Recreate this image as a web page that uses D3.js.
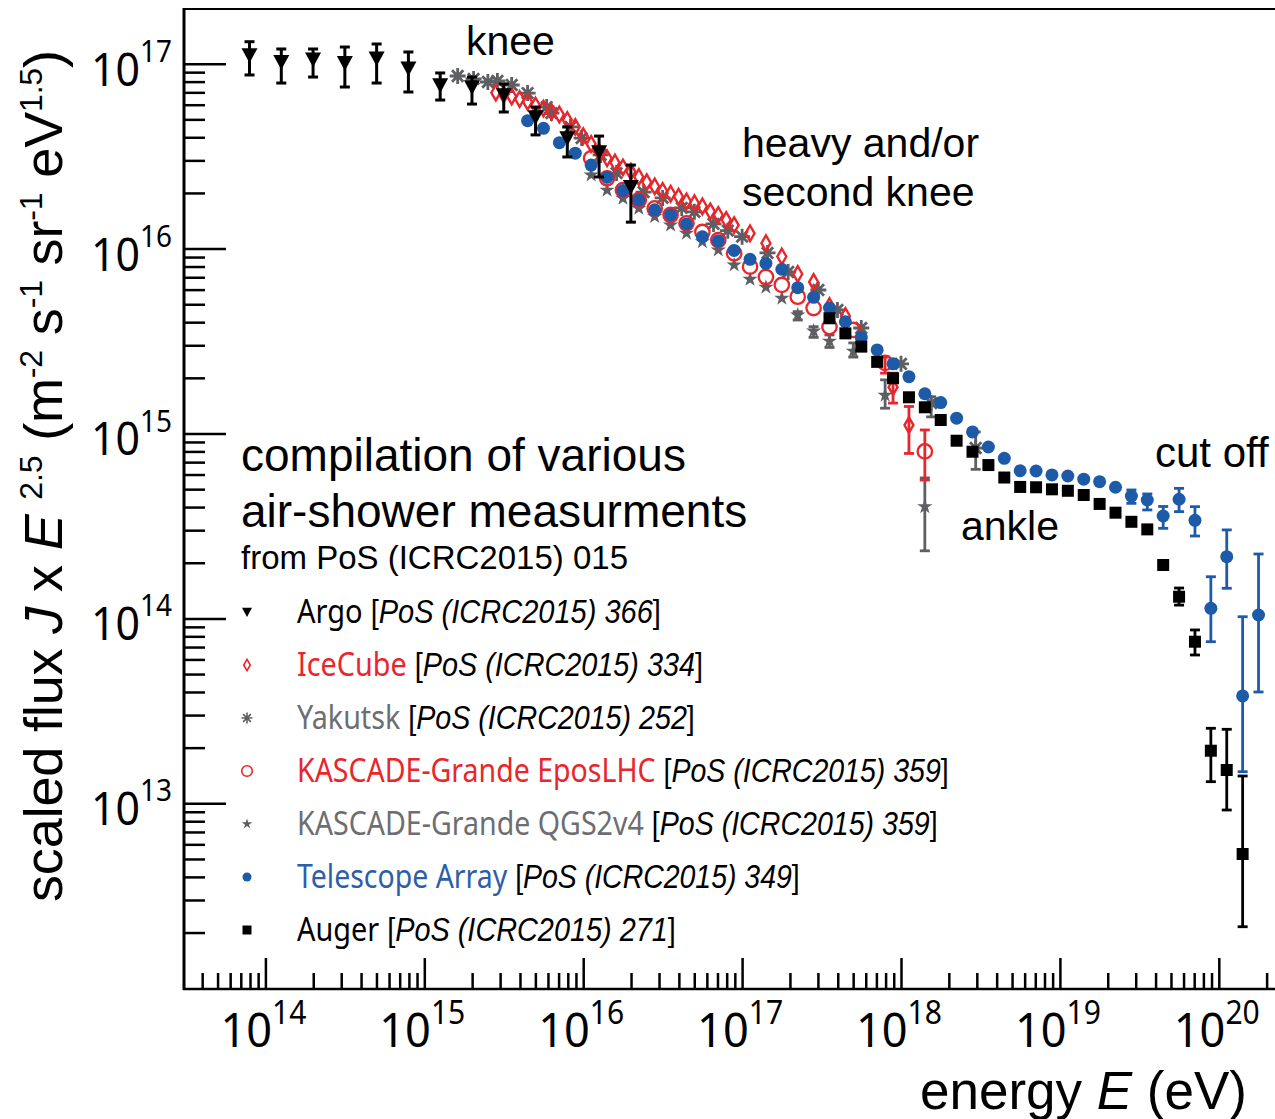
<!DOCTYPE html>
<html>
<head>
<meta charset="utf-8">
<script src="https://cdn.jsdelivr.net/npm/d3@7"></script>
<style>
  body { margin: 0; background: #fff; }
</style>
</head>
<body>
<script>
var width = 1275;
var height = 1119;

// flux values are in units of 1e15 (m^-2 s^-1 sr^-1 eV^1.5), energies as log10(E/eV)
var UNIT = 1e15;

// Argo
var argoLogE = [13.9, 14.1, 14.3, 14.5, 14.7, 14.9, 15.1, 15.3, 15.5, 15.7, 15.9, 16.1, 16.3];
var argoFlux = [111.4, 102.5, 105.6, 101.2, 107.0, 94.4, 76.7, 74.8, 67.7, 51.5, 39.6, 33.3, 21.6];
var argoHi   = [131.5, 120.1, 120.1, 123.1, 127.8, 115.7, 89.1, 84.7, 77.7, 58.3, 45.5, 40.6, 28.3];
var argoLo   = [86.9, 78.6, 84.7, 74.8, 78.6, 70.3, 63.6, 60.5, 54.8, 41.2, 31.3, 24.4, 13.9];

// IceCube
var iceLogE = [15.45, 15.50, 15.55, 15.60, 15.65, 15.70, 15.75, 15.80, 15.85, 15.90, 15.95, 16.00, 16.05, 16.10,
  16.15, 16.20, 16.25, 16.30, 16.35, 16.40, 16.45, 16.50, 16.55, 16.60, 16.65, 16.70, 16.75, 16.80, 16.85,
  16.90, 16.95, 17.05, 17.15, 17.25, 17.35, 17.45, 17.55, 17.65, 17.95, 18.05];
var iceFlux = [69.7, 68.1, 66.5, 64.4, 62.1, 59.4, 57.2, 54.9, 53.1, 49.6, 45.5, 40.6, 36.8, 33.3,
  30.8, 29.2, 27.5, 26.1, 24.4, 22.9, 21.7, 20.5, 19.8, 19.1, 18.0, 17.6, 16.9, 15.9, 15.2,
  14.3, 13.4, 12.1, 10.7, 9.06, 7.29, 6.60, 4.89, 4.32, 1.78, 1.11];
var iceHi = [null, null, null, null, null, null, null, null, null, null, null, null, null, null,
  null, null, null, null, null, null, null, null, null, null, null, null, null, null, null,
  null, null, null, null, null, null, null, null, null, 2.12, 1.40];
var iceLo = [null, null, null, null, null, null, null, null, null, null, null, null, null, null,
  null, null, null, null, null, null, null, null, null, null, null, null, null, null, null,
  null, null, null, null, null, null, null, null, null, 1.46, 0.78];

// Yakutsk
var yakLogE = [15.21, 15.31, 15.40, 15.46, 15.55, 15.65, 15.77, 15.80, 15.92, 15.99, 16.11, 16.21, 16.38, 16.50,
  16.62, 16.70, 16.82, 16.91, 17.00, 17.16, 17.29, 17.48, 17.60, 17.75, 18.00, 18.19, 18.47];
var yakFlux = [85.8, 82.7, 79.6, 80.6, 76.7, 69.4, 58.3, 54.1, 45.5, 39.6, 32.1, 25.6, 20.2, 18.8,
  16.6, 15.8, 13.6, 12.5, 11.6, 9.47, 7.47, 5.97, 4.66, 3.72, 2.38, 1.46, 0.835];
var yakHi = [null, null, null, null, null, null, null, null, null, null, null, null, null, null,
  null, null, null, null, null, null, null, null, null, null, null, 1.58, 1.02];
var yakLo = [null, null, null, null, null, null, null, null, null, null, null, null, null, null,
  null, null, null, null, null, null, null, null, null, null, null, 1.23, 0.64];

// KASCADE-Grande EposLHC
var kgEposLogE = [16.05, 16.15, 16.25, 16.35, 16.45, 16.55, 16.65, 16.75, 16.85, 16.95, 17.05, 17.15, 17.25,
  17.35, 17.45, 17.55, 17.70, 17.90, 18.15];
var kgEposFlux = [30.8, 24.0, 20.7, 18.3, 16.5, 15.2, 13.7, 12.3, 11.1, 9.43, 7.98, 7.02, 6.36,
  5.49, 4.77, 3.77, 3.63, 2.41, 0.80];
var kgEposHi = [null, null, null, null, null, null, null, null, null, null, null, null, null,
  null, null, null, null, 2.59, 1.045];
var kgEposLo = [null, null, null, null, null, null, null, null, null, null, null, null, null,
  null, null, null, null, 2.12, 0.56];

// KASCADE-Grande QGS2v4
var kgQgsLogE = [16.05, 16.15, 16.25, 16.35, 16.45, 16.55, 16.65, 16.75, 16.85, 16.95, 17.05, 17.15, 17.25,
  17.35, 17.45, 17.55, 17.70, 17.90, 18.15];
var kgQgsFlux = [25.0, 20.7, 18.7, 16.5, 14.9, 13.4, 12.1, 10.9, 9.83, 8.15, 6.82, 6.18, 5.39,
  4.37, 3.58, 3.16, 2.79, 1.61, 0.402];
var kgQgsHi = [null, null, null, null, null, null, null, null, null, null, null, null, null,
  4.56, 3.78, 3.41, 3.09, 1.95, 0.575];
var kgQgsLo = [null, null, null, null, null, null, null, null, null, null, null, null, null,
  4.11, 3.31, 2.92, 2.59, 1.37, 0.232];

// Telescope Array
var taLogE = [15.65, 15.75, 15.85, 15.95, 16.05, 16.15, 16.25, 16.35, 16.45, 16.55,
  16.65, 16.75, 16.85, 16.95, 17.05, 17.15, 17.25, 17.35, 17.45, 17.55,
  17.65, 17.75, 17.85, 17.95, 18.05, 18.15, 18.25, 18.35, 18.45, 18.55,
  18.65, 18.75, 18.85, 18.95, 19.05, 19.15, 19.25, 19.35, 19.45, 19.55,
  19.65, 19.75, 19.85, 19.95, 20.05, 20.15, 20.25];
var taFlux = [49.2, 44.7, 37.4, 32.8, 28.3, 24.3, 20.6, 18.3, 16.2, 15.2,
  13.6, 11.6, 11.0, 9.77, 8.75, 8.31, 7.73, 6.15, 5.45, 4.77,
  4.02, 3.31, 2.83, 2.38, 2.03, 1.64, 1.47, 1.21, 1.02, 0.845,
  0.734, 0.629, 0.627, 0.597, 0.589, 0.566, 0.549, 0.512, 0.459, 0.437,
  0.358, 0.441, 0.339, 0.1134, 0.2156, 0.0381, 0.1043];
var taHi = [null, null, null, null, null, null, null, null, null, null,
  null, null, null, null, null, null, null, null, null, null,
  null, null, null, null, null, null, null, null, null, null,
  null, null, null, null, null, null, null, null, 0.495, 0.471,
  0.403, 0.505, 0.402, 0.168, 0.301, 0.1021, 0.223];
var taLo = [null, null, null, null, null, null, null, null, null, null,
  null, null, null, null, null, null, null, null, null, null,
  null, null, null, null, null, null, null, null, null, null,
  null, null, null, null, null, null, null, null, 0.419, 0.386,
  0.307, 0.378, 0.279, 0.0748, 0.1455, 0.01482, 0.040];

// Auger
var augerLogE = [17.55, 17.65, 17.75, 17.85, 17.95, 18.05, 18.15, 18.25, 18.35, 18.45,
  18.55, 18.65, 18.75, 18.85, 18.95, 19.05, 19.15, 19.25, 19.35, 19.45,
  19.55, 19.65, 19.75, 19.85, 19.95, 20.05, 20.15];
var augerFlux = [4.20, 3.48, 2.95, 2.44, 1.99, 1.57, 1.386, 1.183, 0.914, 0.797,
  0.675, 0.578, 0.514, 0.512, 0.499, 0.490, 0.465, 0.416, 0.373, 0.333,
  0.303, 0.1945, 0.131, 0.0748, 0.01925, 0.01514, 0.00532];
var augerHi = [null, null, null, null, null, null, null, null, null, null,
  null, null, null, null, null, null, null, null, null, null,
  null, null, 0.146, 0.0866, 0.02545, 0.02513, 0.01405];
var augerLo = [null, null, null, null, null, null, null, null, null, null,
  null, null, null, null, null, null, null, null, null, null,
  null, null, 0.118, 0.0634, 0.01309, 0.0092, 0.00215];

// legend
var legendNames = ['Argo', 'IceCube', 'Yakutsk', 'KASCADE-Grande EposLHC', 'KASCADE-Grande QGS2v4', 'Telescope Array', 'Auger'];
var legendRefs = ['366', '334', '252', '359', '359', '349', '271'];
var legendWidths = [364, 406, 398, 652, 641, 503, 379];

var xExponents = [14, 15, 16, 17, 18, 19, 20];
var yExponents = [13, 14, 15, 16, 17];

var RED = '#e8262c';
var GRAY = '#5e5f62';
var LGRAY = '#6d6e71';
var BLUE = '#1d5aa7';

var svg = d3.select('body').append('svg')
  .attr('width', width)
  .attr('height', height)
  .style('font-family', '"Liberation Sans", Arial, sans-serif');

var x = d3.scaleLog()
  .domain([Math.pow(10, 13.4877), Math.pow(10, 20.3537)])
  .range([184, 1275]);
var y = d3.scaleLog()
  .domain([Math.pow(10, 11.9957), Math.pow(10, 17.2958)])
  .range([989, 9]);

// ---- axes
var xMajor = [], xMinor = [], yMajor = [], yMinor = [];
for (var d = 11; d <= 20; d++) {
  for (var k = 1; k <= 9; k++) {
    var v = k * Math.pow(10, d);
    if (v >= x.domain()[0] && v <= x.domain()[1]) (k == 1 ? xMajor : xMinor).push(v);
    if (v >= y.domain()[0] * 1.01 && v <= y.domain()[1] * 0.98) (k == 1 ? yMajor : yMinor).push(v);
  }
}

function styleTicks(g, w) {
  g.select('.domain').remove();
  g.selectAll('line').attr('stroke', '#000').attr('stroke-width', w);
}

svg.append('g').attr('transform', 'translate(0,989)')
  .call(d3.axisBottom(x).tickValues(xMinor).tickSize(-16).tickFormat(''))
  .call(styleTicks, 2.5);
svg.append('g').attr('transform', 'translate(0,989)')
  .call(d3.axisBottom(x).tickValues(xMajor).tickSize(-31).tickFormat(''))
  .call(styleTicks, 2.5);
svg.append('g').attr('transform', 'translate(184,0)')
  .call(d3.axisLeft(y).tickValues(yMinor).tickSize(-21).tickFormat(''))
  .call(styleTicks, 2.5);
svg.append('g').attr('transform', 'translate(184,0)')
  .call(d3.axisLeft(y).tickValues(yMajor).tickSize(-42).tickFormat(''))
  .call(styleTicks, 2.5);

// frame
svg.append('line').attr('x1', 184).attr('x2', 184).attr('y1', 8).attr('y2', 990)
  .attr('stroke', '#000').attr('stroke-width', 3);
svg.append('line').attr('x1', 183).attr('x2', 1275).attr('y1', 989).attr('y2', 989)
  .attr('stroke', '#000').attr('stroke-width', 2.5);
svg.append('line').attr('x1', 183).attr('x2', 1275).attr('y1', 9).attr('y2', 9)
  .attr('stroke', '#000').attr('stroke-width', 2);

// tick labels: one text per label ("10" + raised exponent), squeezed to the reference width
function powerLabel(parent, p, bigSize, supSize, rise, targetW, left, baseline) {
  var g = parent.append('g');
  var t = g.append('text').style('font-family', '"Noto Sans", sans-serif');
  t.append('tspan').attr('font-size', bigSize).text('10');
  t.append('tspan').attr('font-size', supSize).attr('dy', -rise).text(p);
  var w = t.node().getComputedTextLength() || targetW;
  g.attr('transform', 'translate(' + left + ',' + baseline + ') scale(' + (targetW / w) + ',1)');
}
var xl = svg.append('g');
xExponents.forEach(function(p) {
  var px = x(Math.pow(10, p));
  powerLabel(xl, p, 48, 32, 23, 86, px - 45, 1047);
});
var yl = svg.append('g');
yExponents.forEach(function(p) {
  var py = y(Math.pow(10, p));
  powerLabel(yl, p, 46, 30, 24, 81, 91, py + 22);
});

// axis titles
var xt = svg.append('text').attr('x', 1247).attr('y', 1109).attr('text-anchor', 'end').attr('font-size', 53);
xt.append('tspan').text('energy ');
xt.append('tspan').attr('font-style', 'italic').text('E');
xt.append('tspan').text(' (eV)');

var yt = svg.append('text').attr('transform', 'translate(62,902) rotate(-90)').attr('font-size', 54)
  .attr('textLength', 852).attr('lengthAdjust', 'spacing');
function ytPart(txt, opts) {
  var t = yt.append('tspan').text(txt);
  if (opts && opts.italic) t.attr('font-style', 'italic');
  if (opts && opts.sup) t.attr('font-size', 32).attr('dy', -20);
  if (opts && opts.down) t.attr('dy', 20);
  return t;
}
ytPart('scaled flux ');
ytPart('J', { italic: true });
ytPart(' x ');
ytPart('E', { italic: true });
ytPart(' ');
ytPart('2.5', { sup: true });
ytPart(' (m', { down: true });
ytPart('-2', { sup: true });
ytPart(' s', { down: true });
ytPart('-1', { sup: true });
ytPart(' sr', { down: true });
ytPart('-1', { sup: true });
ytPart(' eV', { down: true });
ytPart('1.5', { sup: true });
ytPart(')', { down: true });

// annotations
function note(txt, px, py, size) {
  svg.append('text').attr('x', px).attr('y', py).attr('font-size', size).text(txt);
}
note('knee', 466, 55, 41);
note('heavy and/or', 742, 157, 41);
note('second knee', 742, 206, 41);
note('ankle', 961, 540, 41);
note('cut off', 1155, 467, 42);
note('compilation of various', 241, 471, 46);
note('air-shower measurments', 241, 527, 46);
note('from PoS (ICRC2015) 015', 241, 569, 33);

// ---- markers
function rows(logE, flux, hi, lo) {
  return logE.map(function(e, i) {
    return { e: Math.pow(10, e), f: flux[i] * UNIT,
      hi: hi && hi[i] != null ? hi[i] * UNIT : null,
      lo: lo && lo[i] != null ? lo[i] * UNIT : null };
  });
}

var asteriskPath = function(r) {
  var s = r * Math.SQRT1_2;
  return 'M0,' + (-r) + 'L0,' + r + 'M' + (-r) + ',0L' + r + ',0' +
    'M' + (-s) + ',' + (-s) + 'L' + s + ',' + s + 'M' + (-s) + ',' + s + 'L' + s + ',' + (-s);
};
var shapes = {
  triangle: function(s) { return 'M' + (-s) + ',' + (-0.85 * s) + 'L' + s + ',' + (-0.85 * s) + 'L0,' + s + 'Z'; },
  diamond: function(s) { return d3.symbol(d3.symbolDiamond, s * s * 2 * 0.62)(); },
  star: function(s) { return d3.symbol(d3.symbolStar, s * s / 0.8908)(); },
  square: function(s) { return 'M' + (-s) + ',' + (-s) + 'h' + (2 * s) + 'v' + (2 * s) + 'h' + (-2 * s) + 'Z'; },
  circle: function(s) { return d3.symbol(d3.symbolCircle, Math.PI * s * s)(); },
  asterisk: asteriskPath
};

function drawSeries(data, opt) {
  var g = svg.append('g');
  var err = data.filter(function(r) { return r.hi != null; });
  var eb = g.selectAll('g.err').data(err).enter().append('g')
    .attr('stroke', opt.errColor || opt.color).attr('stroke-width', opt.errWidth || 2.8);
  eb.append('line')
    .attr('x1', function(r) { return x(r.e); }).attr('x2', function(r) { return x(r.e); })
    .attr('y1', function(r) { return y(r.hi); }).attr('y2', function(r) { return y(r.lo); });
  ['hi', 'lo'].forEach(function(key) {
    eb.append('line')
      .attr('x1', function(r) { return x(r.e) - 5; }).attr('x2', function(r) { return x(r.e) + 5; })
      .attr('y1', function(r) { return y(r[key]); }).attr('y2', function(r) { return y(r[key]); });
  });
  g.selectAll('path.m').data(data).enter().append('path')
    .attr('transform', function(r) { return 'translate(' + x(r.e) + ',' + y(r.f) + ')'; })
    .attr('d', shapes[opt.shape](opt.size))
    .attr('fill', opt.fill)
    .attr('stroke', opt.stroke || 'none')
    .attr('stroke-width', opt.strokeWidth || 0);
}

var series = {
  yakutsk: { shape: 'asterisk', size: 8, fill: 'none', stroke: GRAY, strokeWidth: 2.8, color: GRAY },
  qgs: { shape: 'star', size: 8, fill: GRAY, color: GRAY },
  ice: { shape: 'diamond', size: 7.5, fill: 'none', stroke: RED, strokeWidth: 2.4, color: RED },
  epos: { shape: 'circle', size: 7.2, fill: 'none', stroke: RED, strokeWidth: 2.3, color: RED },
  ta: { shape: 'circle', size: 6.5, fill: BLUE, color: BLUE },
  auger: { shape: 'square', size: 6, fill: '#000', color: '#000' },
  argo: { shape: 'triangle', size: 8, fill: '#000', color: '#000', errWidth: 3 }
};

drawSeries(rows(yakLogE, yakFlux, yakHi, yakLo), series.yakutsk);
drawSeries(rows(kgQgsLogE, kgQgsFlux, kgQgsHi, kgQgsLo), series.qgs);
drawSeries(rows(iceLogE, iceFlux, iceHi, iceLo), series.ice);
drawSeries(rows(kgEposLogE, kgEposFlux, kgEposHi, kgEposLo), series.epos);
drawSeries(rows(taLogE, taFlux, taHi, taLo), series.ta);
drawSeries(rows(augerLogE, augerFlux, augerHi, augerLo), series.auger);
drawSeries(rows(argoLogE, argoFlux, argoHi, argoLo), series.argo);

// ---- legend (condensed look: squeeze each line horizontally to the reference width)
var legendKeys = ['argo', 'ice', 'yakutsk', 'epos', 'qgs', 'ta', 'auger'];
var legendSizes = [5, 5.5, 5.5, 5.3, 5.5, 4.5, 4.5];
var legendTextColors = ['#000', RED, LGRAY, RED, LGRAY, '#2e5ea8', '#000'];
var lg = svg.append('g');
legendKeys.forEach(function(key, i) {
  var cy = 611 + i * 53;
  var s = series[key];
  lg.append('path').attr('transform', 'translate(247,' + (cy + 1) + ')')
    .attr('d', shapes[s.shape](legendSizes[i]))
    .attr('fill', s.fill).attr('stroke', s.stroke || 'none')
    .attr('stroke-width', s.strokeWidth ? 1.6 : 0);
  var row = lg.append('g');
  var t = row.append('text').attr('font-size', 33);
  t.append('tspan').style('font-family', '"Noto Sans", sans-serif')
    .attr('fill', legendTextColors[i]).text(legendNames[i]);
  t.append('tspan').text(' [');
  t.append('tspan').attr('font-style', 'italic').text('PoS (ICRC2015) ' + legendRefs[i]);
  t.append('tspan').text(']');
  var w = t.node().getComputedTextLength() || legendWidths[i];
  row.attr('transform', 'translate(297,' + (cy + 12) + ') scale(' + (legendWidths[i] / w) + ',1)');
});
</script>
</body>
</html>
